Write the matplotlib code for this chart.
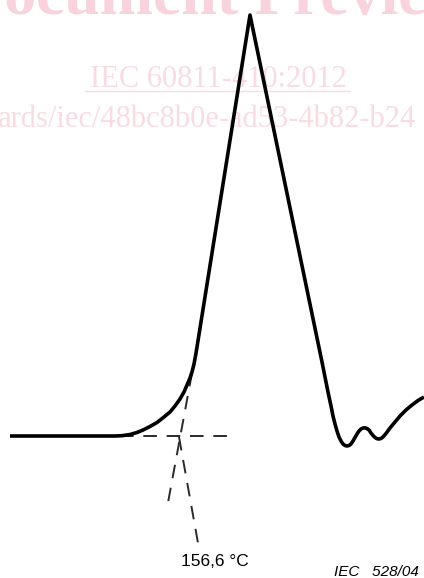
import matplotlib.pyplot as plt

# DSC curve (pixel-like units, y grows downward)
curve_x = [10, 115, 122, 130, 137, 143, 150, 157, 164, 170, 175, 180, 184, 187, 190,
           192, 194, 195.5, 197, 250,
           322, 325, 328, 331, 333, 335, 337, 339, 341, 343, 345, 347, 349, 351, 353,
           355, 357, 359, 361, 363, 365, 367, 369, 371, 373, 375, 377, 379, 381, 383,
           386, 390, 395, 400, 406, 412, 418, 424]
curve_y = [436, 436, 435.7, 434.5, 432.5, 430, 426.5, 422.5, 417, 412, 406, 399, 392, 385, 378,
           372, 364, 356, 347, 15,
           362, 377, 392, 406, 416, 424, 431, 437, 441, 444, 445.5, 446, 445.5, 444, 441,
           437.5, 434, 431, 429, 428, 427.8, 428.5, 430, 433, 435.5, 437.5, 438.7, 439, 438.5, 437,
           433.5, 428, 422, 416, 410, 405, 400.5, 397]

baseline_x = [120, 232]
baseline_y = [436, 436]
tangent_x = [192, 167]
tangent_y = [373, 508]
pointer_x = [179, 198]
pointer_y = [437, 543]

onset_label = '156,6 °C'
figure_ref = 'IEC   528/04'

fig = plt.figure(figsize=(4.24, 5.78), dpi=100)
ax = fig.add_axes([0, 0, 1, 1])
ax.set_xlim(0, 424)
ax.set_ylim(578, 0)
ax.axis('off')

# watermark texts
ax.text(215, 14, 'Document Preview', fontsize=46, fontweight='bold', family='Liberation Serif',
        color='#f8d3dd', ha='center', va='baseline', zorder=0)
ax.text(218, 87, 'IEC 60811-410:2012', fontsize=22, family='Liberation Serif',
        color='#f9dbe3', ha='center', va='baseline', zorder=0)
ax.plot([85, 350], [91, 91], color='#f9dbe3', lw=1, zorder=0)
ax.text(-2, 127, 'ards/iec/48bc8b0e-ad53-4b82-b24', fontsize=22, family='Liberation Serif',
        color='#f9dbe3', ha='left', va='baseline', zorder=0)

for xs, ys in [(baseline_x, baseline_y), (tangent_x, tangent_y), (pointer_x, pointer_y)]:
    line, = ax.plot(xs, ys, color='#2a2a2a', lw=1.4, zorder=2)
    line.set_dashes((7, 5))

ax.plot(curve_x, curve_y, color='black', lw=2.6, solid_joinstyle='round',
        solid_capstyle='butt', zorder=3)

ax.text(215, 562, onset_label, fontsize=12.5, family='Liberation Sans',
        ha='center', va='center', color='black')
ax.text(419, 572, figure_ref, fontsize=11, family='Liberation Sans', style='italic',
        ha='right', va='center', color='black')

plt.savefig('out.png', dpi=100)
